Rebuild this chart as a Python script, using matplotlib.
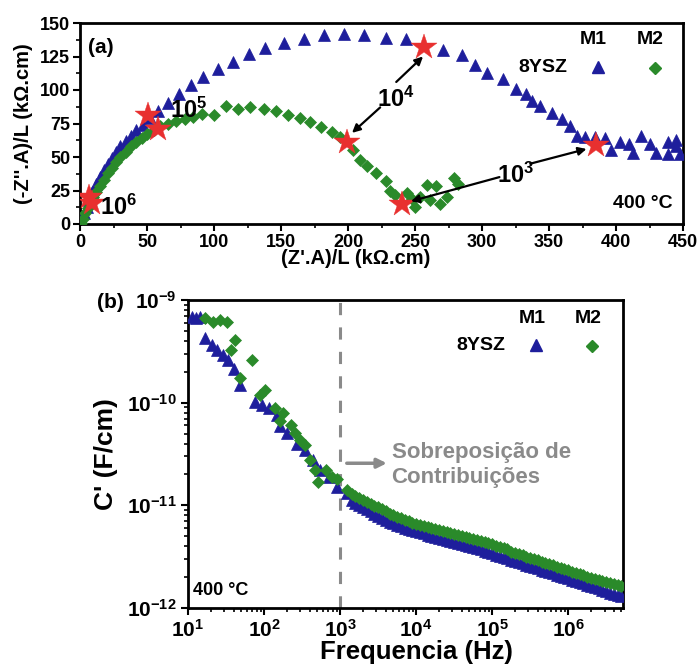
import numpy as np
import matplotlib
matplotlib.use("Agg")
import matplotlib.pyplot as plt
from matplotlib.ticker import MultipleLocator, LogLocator, NullFormatter

plt.rcParams['font.family'] = ['Liberation Sans', 'DejaVu Sans']
plt.rcParams['font.weight'] = 'bold'
plt.rcParams['mathtext.fontset'] = 'custom'
plt.rcParams['mathtext.rm'] = 'Liberation Sans:bold'
plt.rcParams['mathtext.bf'] = 'Liberation Sans:bold'
plt.rcParams['mathtext.it'] = 'Liberation Sans:bold'
plt.rcParams['mathtext.default'] = 'bf'

BLUE = '#1e1e9c'
GREEN = '#2a8a2a'
RED = '#e8302f'
GRAY = '#8a8a8a'

# ---------------- Panel (a) Nyquist data (kOhm.cm) ----------------
m1_zre = [1, 3, 5, 7, 9, 12, 15, 18, 21, 24, 27, 30, 34, 38, 42, 47, 52, 58, 66, 74,
          83, 92, 103, 114, 126, 138, 152, 167, 182, 197, 212, 228, 243, 271, 285,
          295, 304, 316, 325, 333, 337, 343, 352, 360, 366, 371, 377, 384, 392, 396,
          403, 410, 413, 419, 425, 430, 439, 445, 439, 448, 445]
m1_zim = [2, 8, 13, 18, 24, 30, 35, 40, 45, 49, 54, 58, 62, 66, 70, 74, 79, 84, 90, 97,
          104, 110, 116, 121, 127, 131, 135, 138, 141, 142, 141, 139, 138, 130, 126,
          119, 113, 108, 101, 97, 92, 88, 83, 78, 73, 66, 65, 65, 64, 55,
          61, 60, 53, 66, 60, 53, 61, 63, 52, 52, 58]

m2_zre = [0.5, 2, 4, 6, 8, 10, 12, 15, 18, 21, 24, 27, 30, 34, 38, 42, 46, 50, 55, 60,
          66, 72, 78, 84, 91, 100, 109, 118, 127, 137, 146, 155, 164, 172, 180, 188,
          194, 204, 209, 214, 221, 228, 231, 235, 244, 248, 250, 254, 259, 261,
          266, 269, 274, 279, 282]
m2_zim = [0.5, 4, 8, 12, 16, 20, 24, 28, 33, 38, 42, 46, 50, 54, 58, 61, 64, 67, 70, 73,
          75, 77, 78, 80, 82, 81, 88, 86, 87.5, 85.6, 84, 81, 79, 76, 72.6, 69,
          65, 55, 48, 43, 38, 32, 25, 22, 23, 19, 13, 20, 29, 18,
          28, 15, 20, 34, 30]

# frequency markers (10^6, 10^5, 10^4, 10^3)
m1_star_zre = [7, 51, 257, 385]
m1_star_zim = [20, 81, 132, 59]
m2_star_zre = [9, 58, 199, 240]
m2_star_zim = [16, 71, 61, 15]

# ---------------- Panel (b) capacitance data ----------------
m1_logf = [1.05, 1.11, 1.16, 1.22, 1.31, 1.38, 1.46, 1.53, 1.60, 1.68, 1.88, 1.97, 2.06,
           2.17, 2.21, 2.30, 2.43, 2.54, 2.65, 2.74, 2.85, 2.96, 3.09,
           3.15, 3.2, 3.25, 3.3, 3.35, 3.4, 3.45, 3.5, 3.55, 3.6, 3.65, 3.7, 3.75, 3.8,
           3.85, 3.9, 3.95, 4.0, 4.05, 4.1, 4.15, 4.2, 4.25, 4.3, 4.35, 4.4, 4.45, 4.5,
           4.55, 4.6, 4.65, 4.7, 4.75, 4.8, 4.85, 4.9, 4.95, 5.0, 5.05, 5.1, 5.15, 5.2,
           5.25, 5.3, 5.35, 5.4, 5.45, 5.5, 5.55, 5.6, 5.65, 5.7, 5.75, 5.8, 5.85, 5.9,
           5.95, 6.0, 6.05, 6.1, 6.15, 6.2, 6.25, 6.3, 6.35, 6.4, 6.45, 6.5, 6.55, 6.6,
           6.65, 6.7]
m1_logc = [-9.17, -9.18, -9.17, -9.37, -9.44, -9.49, -9.54, -9.58, -9.67, -9.83, -9.99,
           -10.02, -10.05, -10.12, -10.23, -10.30, -10.40, -10.46, -10.56, -10.66,
           -10.72, -10.82, -10.88,
           -10.95, -10.98, -11.00, -11.02, -11.04, -11.06, -11.08, -11.10, -11.12,
           -11.14, -11.16, -11.17, -11.19, -11.20, -11.22, -11.23, -11.24, -11.25,
           -11.26, -11.27, -11.29, -11.30, -11.31, -11.32, -11.33, -11.34, -11.35,
           -11.36, -11.37, -11.38, -11.39, -11.40, -11.41, -11.42, -11.43, -11.44,
           -11.45, -11.46, -11.48, -11.49, -11.50, -11.51, -11.53, -11.54, -11.55,
           -11.56, -11.58, -11.59, -11.60, -11.61, -11.63, -11.64, -11.65, -11.66,
           -11.68, -11.69, -11.70, -11.71, -11.73, -11.74, -11.75, -11.76, -11.78,
           -11.79, -11.80, -11.81, -11.82, -11.83, -11.85, -11.86, -11.87, -11.88]

m2_logf = [1.22, 1.33, 1.42, 1.51, 1.62, 1.57, 1.84, 1.68, 2.01, 1.95, 2.14, 2.25, 2.21,
           2.36, 2.41, 2.47, 2.54, 2.61, 2.67, 2.71, 2.82, 2.89, 2.96, 3.09,
           3.15, 3.2, 3.25, 3.3, 3.35, 3.4, 3.45, 3.5, 3.55, 3.6, 3.65, 3.7, 3.75, 3.8,
           3.85, 3.9, 3.95, 4.0, 4.05, 4.1, 4.15, 4.2, 4.25, 4.3, 4.35, 4.4, 4.45, 4.5,
           4.55, 4.6, 4.65, 4.7, 4.75, 4.8, 4.85, 4.9, 4.95, 5.0, 5.05, 5.1, 5.15, 5.2,
           5.25, 5.3, 5.35, 5.4, 5.45, 5.5, 5.55, 5.6, 5.65, 5.7, 5.75, 5.8, 5.85, 5.9,
           5.95, 6.0, 6.05, 6.1, 6.15, 6.2, 6.25, 6.3, 6.35, 6.4, 6.45, 6.5, 6.55, 6.6,
           6.65, 6.7]
m2_logc = [-9.18, -9.21, -9.19, -9.21, -9.39, -9.49, -9.58, -9.76, -9.88, -9.93, -10.05,
           -10.10, -10.18, -10.22, -10.30, -10.36, -10.41, -10.56, -10.66, -10.77,
           -10.66, -10.72, -10.74, -10.85,
           -10.89, -10.91, -10.93, -10.95, -10.97, -10.99, -11.01, -11.02, -11.04,
           -11.06, -11.08, -11.09, -11.11, -11.12, -11.14, -11.15, -11.17, -11.18,
           -11.19, -11.20, -11.21, -11.22, -11.23, -11.24, -11.25, -11.26, -11.27,
           -11.28, -11.29, -11.30, -11.31, -11.32, -11.33, -11.34, -11.35, -11.36,
           -11.37, -11.38, -11.40, -11.41, -11.42, -11.43, -11.45, -11.46, -11.47,
           -11.48, -11.50, -11.51, -11.52, -11.53, -11.55, -11.56, -11.57, -11.58,
           -11.60, -11.61, -11.62, -11.63, -11.65, -11.66, -11.67, -11.68, -11.70,
           -11.71, -11.72, -11.73, -11.74, -11.75, -11.76, -11.77, -11.78, -11.79]

fig = plt.figure(figsize=(7.0, 6.71), dpi=100)

# ================= Panel (a) =================
axa = fig.add_axes([80/700, 1-224/671, 603/700, 201/671])
axa.plot(m1_zre, m1_zim, linestyle='none', marker='^', ms=8, color=BLUE, mec=BLUE, mew=0.5, zorder=3)
axa.plot(m2_zre, m2_zim, linestyle='none', marker='D', ms=6, color=GREEN, mec=GREEN, mew=0.5, zorder=4)
axa.plot(m1_star_zre, m1_star_zim, linestyle='none', marker='*', ms=19, color=RED, mec=RED, mew=0.3, zorder=5)
axa.plot(m2_star_zre, m2_star_zim, linestyle='none', marker='*', ms=19, color=RED, mec=RED, mew=0.3, zorder=5)
axa.set_xlim(0, 450)
axa.set_ylim(0, 150)
axa.xaxis.set_major_locator(MultipleLocator(50))
axa.xaxis.set_minor_locator(MultipleLocator(25))
axa.yaxis.set_major_locator(MultipleLocator(25))
axa.yaxis.set_minor_locator(MultipleLocator(12.5))
axa.tick_params(which='major', direction='out', length=5, width=1.5, labelsize=13, pad=2)
axa.tick_params(which='minor', direction='out', length=3, width=1.2)
for s in axa.spines.values():
    s.set_linewidth(2)
axa.set_xlabel("(Z'.A)/L (k\u03a9.cm)", fontsize=14.5, fontweight='bold')
axa.set_ylabel("(-Z''.A)/L (k\u03a9.cm)", fontsize=14.5, fontweight='bold')
axa.xaxis.set_label_coords(0.458, -0.125)
axa.yaxis.set_label_coords(-0.078, 0.5)

axa.text(0.013, 0.88, "(a)", transform=axa.transAxes, fontsize=15, fontweight='bold', va='center', ha='left')
axa.text(442, 15, "400 \u00b0C", fontsize=14, fontweight='bold', ha='right', va='center')
# legend
axa.text((593-80)/603, (224-40)/201, "M1", transform=axa.transAxes, fontsize=14, ha='center', va='center')
axa.text((650-80)/603, (224-40)/201, "M2", transform=axa.transAxes, fontsize=14, ha='center', va='center')
axa.text((567-80)/603, (224-68)/201, "8YSZ", transform=axa.transAxes, fontsize=14, ha='right', va='center')
axa.plot([(598-80)/603], [(224-67)/201], transform=axa.transAxes, marker='^', ms=8, color=BLUE, ls='none')
axa.plot([(655-80)/603], [(224-68)/201], transform=axa.transAxes, marker='D', ms=6, color=GREEN, ls='none')

# frequency labels and arrows
axa.text(15, 6.7, r"$\mathbf{10^{6}}$", fontsize=17, ha='left', va='baseline', zorder=6)
axa.text(67, 79.5, r"$\mathbf{10^{5}}$", fontsize=17, ha='left', va='baseline', zorder=6)
axa.text(222, 87.5, r"$\mathbf{10^{4}}$", fontsize=17, ha='left', va='baseline', zorder=6)
axa.text(311, 30.4, r"$\mathbf{10^{3}}$", fontsize=17, ha='left', va='baseline', zorder=6)
arrow_kw = dict(arrowstyle='-|>', color='black', lw=1.6, mutation_scale=12, shrinkA=0, shrinkB=0)
axa.annotate('', xy=(256, 125), xytext=(236, 106), arrowprops=arrow_kw, zorder=6)
axa.annotate('', xy=(203, 68), xytext=(224, 87), arrowprops=arrow_kw, zorder=6)
axa.annotate('', xy=(378, 56), xytext=(336, 45), arrowprops=arrow_kw, zorder=6)
axa.annotate('', xy=(247, 17), xytext=(313, 35), arrowprops=arrow_kw, zorder=6)

# ================= Panel (b) =================
axb = fig.add_axes([188/700, 1-608/671, 435/700, 308/671])
f1 = 10.0 ** np.array(m1_logf)
c1 = 10.0 ** np.array(m1_logc)
f2 = 10.0 ** np.array(m2_logf)
c2 = 10.0 ** np.array(m2_logc)
axb.plot(f1, c1, linestyle='none', marker='^', ms=9, color=BLUE, mec=BLUE, mew=0.5, zorder=3)
axb.plot(f2, c2, linestyle='none', marker='D', ms=6.5, color=GREEN, mec=GREEN, mew=0.5, zorder=4)
axb.set_xscale('log')
axb.set_yscale('log')
axb.set_xlim(10, 10**6.72)
axb.set_ylim(1e-12, 1e-9)
axb.xaxis.set_major_locator(LogLocator(base=10, numticks=10))
axb.xaxis.set_minor_locator(LogLocator(base=10, subs=np.arange(2, 10), numticks=20))
axb.xaxis.set_minor_formatter(NullFormatter())
axb.yaxis.set_major_locator(LogLocator(base=10, numticks=10))
axb.yaxis.set_minor_locator(LogLocator(base=10, subs=np.arange(2, 10), numticks=20))
axb.yaxis.set_minor_formatter(NullFormatter())
axb.tick_params(which='major', direction='out', length=5, width=1.5, labelsize=15, pad=3)
axb.tick_params(which='minor', direction='out', length=3, width=1.2)
for s in axb.spines.values():
    s.set_linewidth(2)
axb.axvline(1000, color=GRAY, lw=2.2, linestyle=(0, (4, 4)), zorder=2)
axb.set_xlabel("Frequencia (Hz)", fontsize=18.5, fontweight='bold')
axb.set_ylabel("C' (F/cm)", fontsize=19, fontweight='bold')
axb.xaxis.set_label_coords(0.524, -0.103)
axb.yaxis.set_label_coords(-0.16, 0.5)

fig.text(97/700, 1-303/671, "(b)", fontsize=15, fontweight='bold', ha='left', va='center')
axb.text(0.012, 0.058, "400 \u00b0C", transform=axb.transAxes, fontsize=13, ha='left', va='center')
axb.text((532.5-188)/435, (608-318.5)/308, "M1", transform=axb.transAxes, fontsize=14, ha='center', va='center')
axb.text((588-188)/435, (608-318.5)/308, "M2", transform=axb.transAxes, fontsize=14, ha='center', va='center')
axb.text((505-188)/435, (608-345.5)/308, "8YSZ", transform=axb.transAxes, fontsize=14, ha='right', va='center')
axb.plot([(536-188)/435], [(608-345)/308], transform=axb.transAxes, marker='^', ms=9, color=BLUE, ls='none')
axb.plot([(591.7-188)/435], [(608-345.7)/308], transform=axb.transAxes, marker='D', ms=6.5, color=GREEN, ls='none')

axb.annotate('', xy=(0.457, 0.47), xytext=(0.365, 0.47), xycoords='axes fraction',
             arrowprops=dict(arrowstyle='-|>', color=GRAY, lw=2.5, mutation_scale=14, shrinkA=0, shrinkB=0))
axb.text(0.468, 0.464, "Sobreposi\u00e7\u00e3o de\nContribui\u00e7\u00f5es", transform=axb.transAxes,
         fontsize=16, color=GRAY, ha='left', va='center', linespacing=1.25)

fig.savefig("out.png", dpi=100)
